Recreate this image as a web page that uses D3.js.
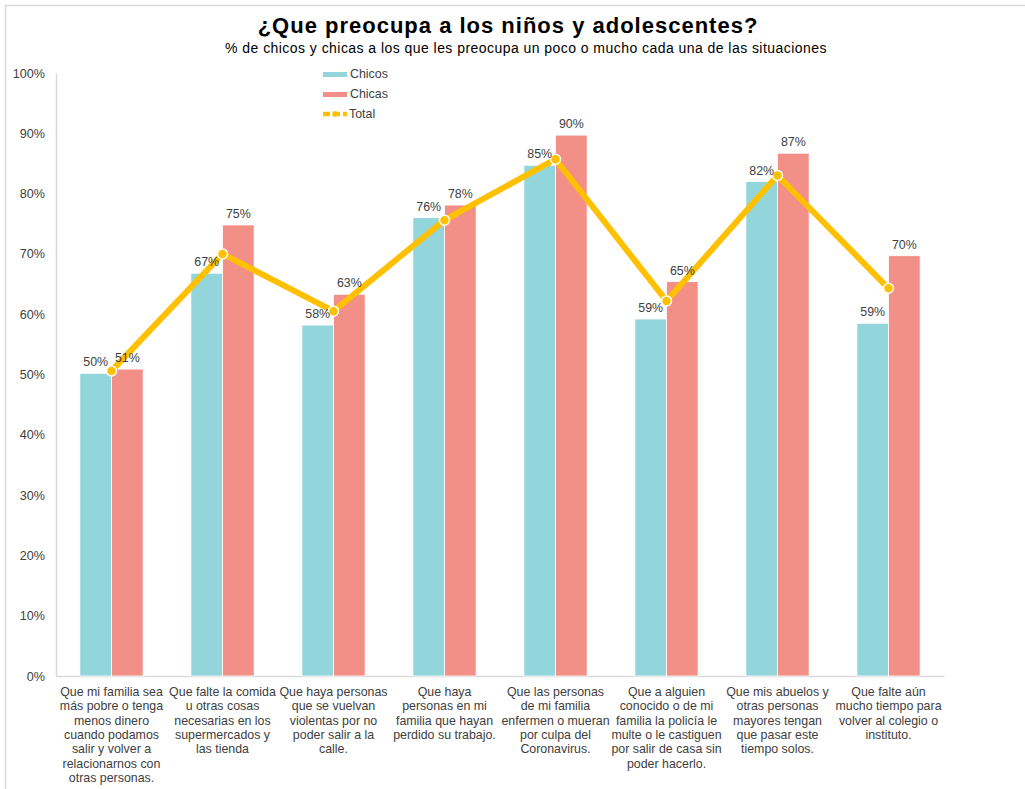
<!DOCTYPE html>
<html>
<head>
<meta charset="utf-8">
<script src="https://cdn.jsdelivr.net/npm/d3@7"></script>
<style>
  body { margin: 0; background: #fff; }
  svg { font-family: "Liberation Sans", Arial, sans-serif; }
</style>
</head>
<body>
<svg id="chart" width="1025" height="789"></svg>
<script>
// data
var categories = [
  ["Que mi familia sea", "más pobre o tenga", "menos dinero", "cuando podamos", "salir y volver a", "relacionarnos con", "otras personas."],
  ["Que falte la comida", "u otras cosas", "necesarias en los", "supermercados y", "las tienda"],
  ["Que haya personas", "que se vuelvan", "violentas por no", "poder salir a la", "calle."],
  ["Que haya", "personas en mi", "familia que hayan", "perdido su trabajo."],
  ["Que las personas", "de mi familia", "enfermen o mueran", "por culpa del", "Coronavirus."],
  ["Que a alguien", "conocido o de mi", "familia la policía le", "multe o le castiguen", "por salir de casa sin", "poder hacerlo."],
  ["Que mis abuelos y", "otras personas", "mayores tengan", "que pasar este", "tiempo solos."],
  ["Que falte aún", "mucho tiempo para", "volver al colegio o", "instituto."]
]
var chicos = [50.2, 66.8, 58.2, 76.0, 84.7, 59.2, 82.0, 58.5]
var chicas = [50.9, 74.8, 63.3, 78.1, 89.7, 65.4, 86.7, 69.7]
var total  = [50.6, 70.0, 60.5, 75.6, 85.7, 62.2, 83.0, 64.3]
var yTicks = [0, 10, 20, 30, 40, 50, 60, 70, 80, 90, 100]

var svg = d3.select("#chart")
var plotLeft = 56, plotRight = 944, plotTop = 73, plotBottom = 676
var textColor = "#404040"
var colChicos = "#92D6DC", colChicas = "#F28F86", colTotal = "#FFC000"
var fs = 12.4

// frame
svg.append("path")
    .attr("d", "M5.5,789V5.5H1025")
    .attr("fill", "none")
    .attr("stroke", "#d9d9d9")
    .attr("stroke-width", 1.5)

var idx = d3.range(categories.length)

var x0 = d3.scaleBand()
    .domain(idx)
    .range([plotLeft, plotRight])
    .paddingInner(0.43)
    .paddingOuter(0.215)

var x1 = d3.scaleBand()
    .domain(["chicos", "chicas"])
    .range([0, x0.bandwidth()])

var y = d3.scaleLinear()
    .domain([0, 100])
    .range([plotBottom, plotTop])

// title
svg.append("text")
    .attr("x", 508).attr("y", 33)
    .attr("text-anchor", "middle")
    .attr("font-size", 22).attr("font-weight", "bold")
    .attr("letter-spacing", 1)
    .attr("fill", "#000")
    .text("¿Que preocupa a los niños y adolescentes?")

svg.append("text")
    .attr("x", 526).attr("y", 53)
    .attr("text-anchor", "middle")
    .attr("font-size", 14)
    .attr("letter-spacing", 0.45)
    .attr("fill", "#000")
    .text("% de chicos y chicas a los que les preocupa un poco o mucho cada una de las situaciones")

// y axis
var yAxis = svg.append("g")
    .attr("transform", "translate(" + plotLeft + ",0)")
    .call(d3.axisLeft(y).tickValues(yTicks).tickSize(0).tickPadding(11).tickFormat(d => d + "%"))
yAxis.select(".domain").attr("stroke", "#d9d9d9").attr("stroke-width", 1.5)
yAxis.selectAll("text").attr("font-size", 12.6).attr("fill", textColor)
    .attr("font-family", "Liberation Sans, Arial, sans-serif")

// x axis baseline
var xAxis = svg.append("g")
    .attr("transform", "translate(0," + plotBottom + ")")
    .call(d3.axisBottom(x0).tickSize(0).tickFormat(""))
xAxis.select(".domain").attr("stroke", "#d9d9d9").attr("stroke-width", 1.5)

// category labels
var catLabels = svg.append("g")
categories.forEach(function(lines, i) {
  var t = catLabels.append("text")
      .attr("text-anchor", "middle")
      .attr("font-size", fs)
      .attr("fill", textColor)
  lines.forEach(function(line, k) {
    t.append("tspan")
        .attr("x", x0(i) + x0.bandwidth() / 2)
        .attr("y", plotBottom + 20 + k * 14.3)
        .text(line)
  })
})

// bars
var series = [
  { key: "chicos", values: chicos, color: colChicos },
  { key: "chicas", values: chicas, color: colChicas }
]

series.forEach(function(s) {
  var g = svg.append("g")
  g.selectAll("rect")
    .data(s.values)
    .join("rect")
      .attr("x", (d, i) => x0(i) + x1(s.key))
      .attr("y", d => y(d))
      .attr("width", x1.bandwidth())
      .attr("height", d => y(0) - y(d))
      .attr("fill", s.color)
      .attr("stroke", "#fff")
      .attr("stroke-width", 0.8)
})

// total line
var line = d3.line()
    .x((d, i) => x0(i) + x0.bandwidth() / 2)
    .y(d => y(d))

svg.append("path")
    .datum(total)
    .attr("d", line)
    .attr("fill", "none")
    .attr("stroke", colTotal)
    .attr("stroke-width", 6)
    .attr("stroke-linejoin", "round")

svg.append("g").selectAll("circle")
  .data(total)
  .join("circle")
    .attr("cx", (d, i) => x0(i) + x0.bandwidth() / 2)
    .attr("cy", d => y(d))
    .attr("r", 5)
    .attr("fill", colTotal)
    .attr("stroke", "#fff")
    .attr("stroke-width", 1.5)

// bar labels, drawn over the line like in the original
series.forEach(function(s) {
  svg.append("g").selectAll("text")
    .data(s.values)
    .join("text")
      .attr("x", (d, i) => x0(i) + x1(s.key) + x1.bandwidth() / 2)
      .attr("y", d => y(d) - 7)
      .attr("text-anchor", "middle")
      .attr("font-size", fs)
      .attr("fill", textColor)
      .text(d => Math.round(d) + "%")
})

// legend
var legend = svg.append("g").attr("transform", "translate(323,0)")
legend.append("rect").attr("x", 0).attr("y", 72).attr("width", 24).attr("height", 5).attr("fill", colChicos)
legend.append("text").attr("x", 27).attr("y", 78).attr("font-size", fs).attr("fill", textColor).text("Chicos")
legend.append("rect").attr("x", 0).attr("y", 92).attr("width", 24).attr("height", 5).attr("fill", colChicas)
legend.append("text").attr("x", 27).attr("y", 98).attr("font-size", fs).attr("fill", textColor).text("Chicas")
legend.append("line").attr("x1", 0).attr("x2", 24).attr("y1", 114).attr("y2", 114)
    .attr("stroke", colTotal).attr("stroke-width", 4.5).attr("stroke-dasharray", "7,3")
legend.append("circle").attr("cx", 12).attr("cy", 114).attr("r", 2.8).attr("fill", colTotal)
legend.append("text").attr("x", 26).attr("y", 118).attr("font-size", fs).attr("fill", textColor).text("Total")
</script>
</body>
</html>
